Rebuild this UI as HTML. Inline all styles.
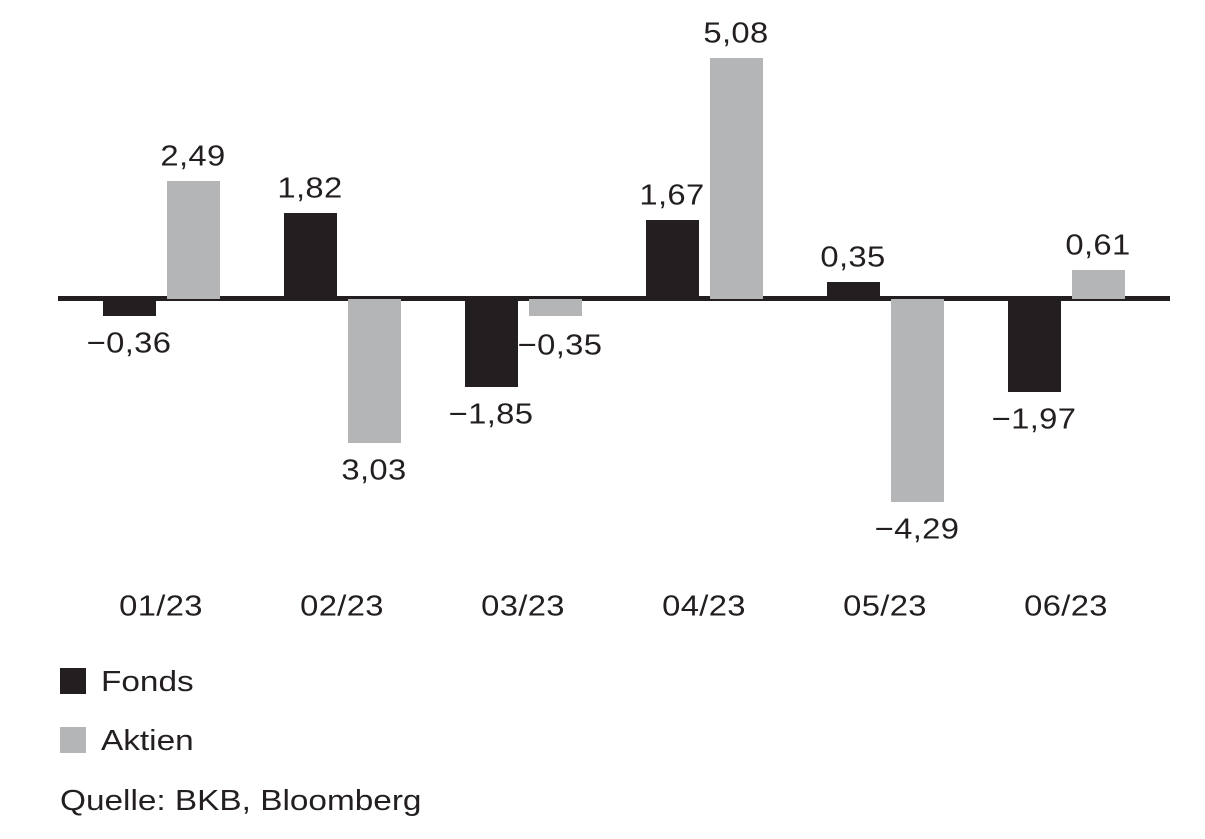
<!DOCTYPE html>
<html><head><meta charset="utf-8"><style>
body{margin:0;width:1205px;height:839px;background:#fff;position:relative;overflow:hidden;font-family:"Liberation Sans",Arial,sans-serif;color:#231f20}
.b{position:absolute}
.f{background:#231f20}.a{background:#b4b5b7}
.t{position:absolute;font-size:29px;transform:translate(-50%,-50%) scaleX(1.13);white-space:nowrap;line-height:1;letter-spacing:0.3px}
.l{position:absolute;font-size:29px;line-height:1;white-space:nowrap;transform-origin:0 0;transform:scaleX(1.15)}
</style></head><body>
<div class="b" style="left:58px;top:296px;width:1112px;height:5px;background:#231f20"></div>
<div id="c"></div>
<script>
var s=47.4,base=299,F=[-0.36,1.82,-1.85,1.67,0.35,-1.97],A=[2.49,-3.03,-0.35,5.08,-4.29,0.61],
lab=["01/23","02/23","03/23","04/23","05/23","06/23"],h="";
function bar(x,v,c){var hh=Math.abs(v)*s,top=v>0?base-hh:base;
h+='<div class="b '+c+'" style="left:'+x+'px;top:'+top+'px;width:53px;height:'+hh+'px"></div>';
var txt=(v<0&&!(c=="a"&&x==348)?'\u2212':'')+Math.abs(v).toFixed(2).replace('.',',');
var ty=v>0?top-24:base+hh+28,tx=x+26;
if(c=="a"&&x==529){tx=x+31;ty=346}
h+='<div class="t" style="left:'+tx+'px;top:'+ty+'px">'+txt+'</div>';}
for(var i=0;i<6;i++){var x=103+i*181;bar(x,F[i],"f");bar(x+64,A[i],"a");
h+='<div class="t" style="left:'+(x+58)+'px;top:607px">'+lab[i]+'</div>';}
document.getElementById("c").innerHTML=h;
</script>
<div class="b f" style="left:60px;top:668px;width:26px;height:26px"></div>
<div class="l" style="left:101px;top:668px">Fonds</div>
<div class="b a" style="left:60px;top:727px;width:26px;height:26px"></div>
<div class="l" style="left:101px;top:727px">Aktien</div>
<div class="l" style="left:60px;top:787px">Quelle: BKB, Bloomberg</div>
</body></html>
